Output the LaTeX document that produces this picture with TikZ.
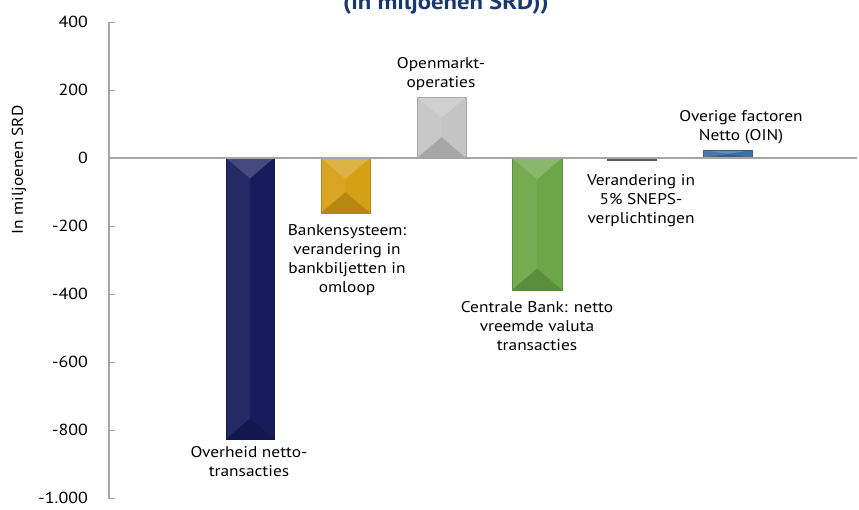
\documentclass[tikz,border=0pt]{standalone}
\usepackage{fontspec}
\setmainfont{PT Sans}[FakeStretch=1.12]
\definecolor{navybar}{RGB}{22,28,92}
\definecolor{goldbar}{RGB}{214,160,22}
\definecolor{greybar}{RGB}{196,196,196}
\definecolor{greenbar}{RGB}{108,166,72}
\definecolor{bluebar}{RGB}{62,112,166}
\definecolor{smallbar}{RGB}{90,90,90}
\definecolor{axisgrey}{RGB}{165,165,165}
\definecolor{titleblue}{RGB}{23,55,110}
\newcommand\bevbar[5]{%
  \pgfmathsetmacro\bw{(#2-#1)}%
  \pgfmathsetmacro\bh{(#4-#3)}%
  \pgfmathsetmacro\bd{min(\bw/2*0.85,\bh/2)}%
  \pgfmathsetmacro\cx{(#1+#2)/2}%
  \fill[#5] (#1,#3) rectangle (#2,#4);
  \fill[#5!94!white] (#1,#3) -- (\cx,#3+\bd) -- (\cx,#4-\bd) -- (#1,#4) -- cycle;
  \fill[#5!80!white] (#1,#3) -- (#2,#3) -- (\cx,#3+\bd) -- cycle;
  \fill[#5!85!black] (#1,#4) -- (#2,#4) -- (\cx,#4-\bd) -- cycle;
  \draw[#5!85!black, line width=0.8] (#1,#3) rectangle (#2,#4);
}
\tikzset{
  lbl/.style={anchor=north, align=center, inner sep=0pt, font=\fontsize{15.5}{19}\selectfont, text=black},
  tick/.style={anchor=east, inner sep=0pt, font=\fontsize{16}{18}\selectfont},
  axis/.style={draw=axisgrey, line width=1.5pt},
}
\begin{document}
\begin{tikzpicture}[x=1pt,y=-1pt]
\useasboundingbox (0,0) rectangle (859,509);
% title (cut off at top)
\node[font=\bfseries\fontsize{22}{24}\selectfont, text=titleblue, anchor=base] (title) at (446,9.5) {(in miljoenen SRD))};
% axes
\coordinate (ytop) at (109,22);
\coordinate (ybot) at (109,499);
\coordinate (xleft) at (109,158);
\coordinate (xright) at (857,158);
\draw[axis] (ytop) -- (ybot);
\foreach \v/\t in {400/400,200/200,0/0,-200/-200,-400/-400,-600/-600,-800/-800,-1000/-1.000}{
  \pgfmathsetmacro\yy{158-0.34*\v}
  \draw[axis, line width=1pt] (109,\yy) -- (115,\yy);
  \node[tick] (t\v) at (88,\yy) {\t};
}
\node[rotate=90, inner sep=0pt, font=\fontsize{15.5}{18}\selectfont] (ylab) at (19,170) {In miljoenen SRD};
% bars
\bevbar{226}{274}{158}{439}{navybar}
\bevbar{321}{370}{158}{213}{goldbar}
\bevbar{417}{466}{97}{158}{greybar}
\bevbar{512}{562}{158}{290}{greenbar}
\fill[smallbar] (607,158) rectangle (657,161);
\bevbar{703}{752}{150}{158}{bluebar}
\draw[axis] (xleft) -- (xright);
% labels
\node[lbl] (l1) at (249,446) {Overheid netto-\\transacties};
\node[lbl] (l2) at (347,224) {Bankensysteem:\\verandering in\\bankbiljetten in\\omloop};
\node[lbl] (l3) at (441,57) {Openmarkt-\\operaties};
\node[lbl] (l4) at (537,301) {Centrale Bank: netto\\vreemde valuta\\transacties};
\node[lbl] (l5) at (641,174) {Verandering in\\5\% SNEPS-\\verplichtingen};
\node[lbl] (l6) at (741,110) {Overige factoren\\Netto (OIN)};
\end{tikzpicture}
\end{document}
